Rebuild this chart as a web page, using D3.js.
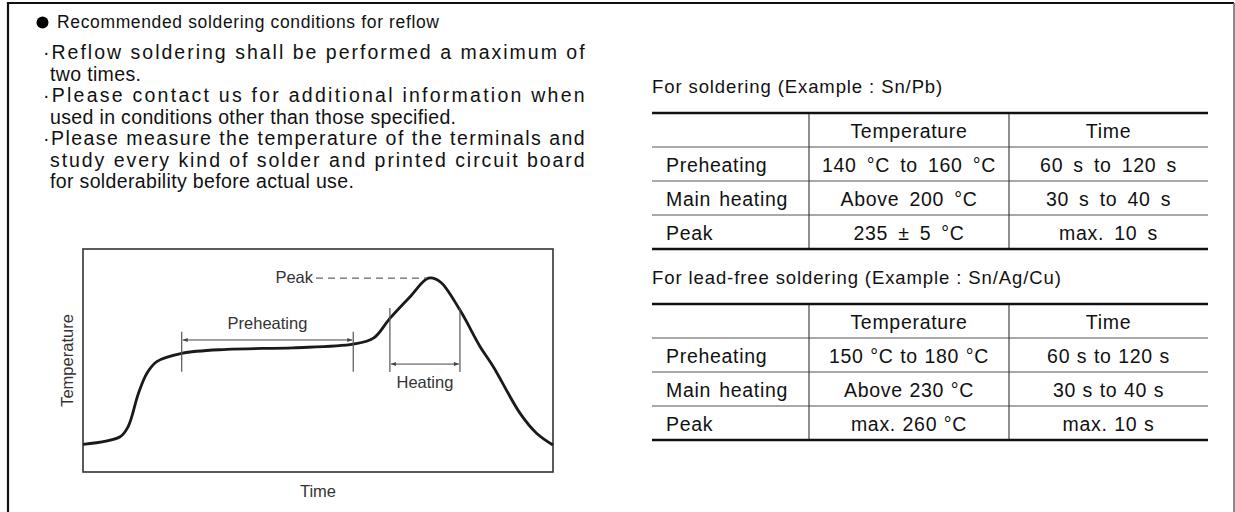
<!DOCTYPE html>
<html>
<head>
<script src="https://d3js.org/d3.v7.min.js"></script>
<style>
  body { margin: 0; background: #fff; }
  svg { display: block; font-family: "Liberation Sans", Arial, sans-serif; }
</style>
</head>
<body>
<script>
// --- text ---
const heading = "Recommended soldering conditions for reflow";
const notes = [
  "·Reflow soldering shall be performed a maximum of",
  "two times.",
  "·Please contact us for additional information when",
  "used in conditions other than those specified.",
  "·Please measure the temperature of the terminals and",
  "study every kind of solder and printed circuit board",
  "for solderability before actual use."
];
const justified = [true, false, true, false, true, true, false];

// --- reflow profile (relative units 0..100) ---
const profileTime = [0, 7.9, 9.6, 11.8, 13.6, 15.7, 21.0, 30.6, 44.7, 57.5, 61.8, 65.3, 69.6, 73.5, 76.0, 80.2, 84.5, 87.3, 93.0, 96.5, 100];
const profileTemp = [12.4, 15.8, 20.3, 35.3, 44.3, 49.5, 53.2, 55.0, 55.7, 57.3, 60.0, 68.9, 78.6, 86.9, 85.3, 72.6, 56.2, 47.2, 26.3, 17.4, 12.1];
const preheatSpan = [21.0, 57.5];
const heatingSpan = [65.3, 80.2];

// --- tables ---
const columns = ["", "Temperature", "Time"];
const stages = ["Preheating", "Main heating", "Peak"];
const snpbTitle = "For soldering (Example : Sn/Pb)";
const snpbTemp = ["140 °C to 160 °C", "Above 200 °C", "235 ± 5 °C"];
const snpbTime = ["60 s to 120 s", "30 s to 40 s", "max. 10 s"];
const freeTitle = "For lead-free soldering (Example : Sn/Ag/Cu)";
const freeTemp = ["150 °C to 180 °C", "Above 230 °C", "max. 260 °C"];
const freeTime = ["60 s to 120 s", "30 s to 40 s", "max. 10 s"];

const W = 1235, H = 512;
const svg = d3.select("body").append("svg").attr("width", W).attr("height", H);

// outer frame (open at the bottom)
svg.append("path")
  .attr("d", `M8,${H} L8,3 L1234,3`)
  .attr("fill", "none").attr("stroke", "#111").attr("stroke-width", 2.2);
svg.append("line").attr("x1", 1234).attr("x2", 1234).attr("y1", 3).attr("y2", H)
  .attr("stroke", "#666").attr("stroke-width", 1.5);

// heading
svg.append("circle").attr("cx", 42.5).attr("cy", 22.5).attr("r", 6).attr("fill", "#000");
svg.append("text").attr("x", 57).attr("y", 28)
  .attr("font-size", 17.5).attr("fill", "#111")
  .attr("textLength", 382).attr("lengthAdjust", "spacing")
  .text(heading);

// notes paragraph
const noteLeft = 43, noteRight = 585, lineGap = 21.5;
notes.forEach((t, i) => {
  const x = t.startsWith("·") ? noteLeft : noteLeft + 7;
  const el = svg.append("text")
    .attr("x", x).attr("y", 59 + i * lineGap)
    .attr("font-size", 19.5).attr("fill", "#111")
    .attr("letter-spacing", 0.35)
    .text(t);
  if (justified[i]) el.attr("textLength", noteRight - x).attr("lengthAdjust", "spacing");
});

// --- profile chart ---
const box = {x0: 83, y0: 249, x1: 553, y1: 472};
const x = d3.scaleLinear().domain([0, 100]).range([box.x0, box.x1]);
const y = d3.scaleLinear().domain([0, 100]).range([box.y1, box.y0]);
const g = svg.append("g");

g.append("rect")
  .attr("x", box.x0).attr("y", box.y0)
  .attr("width", box.x1 - box.x0).attr("height", box.y1 - box.y0)
  .attr("fill", "none").attr("stroke", "#333").attr("stroke-width", 1.6);

const profile = profileTime.map((t, i) => [t, profileTemp[i]]);
const line = d3.line().x(d => x(d[0])).y(d => y(d[1])).curve(d3.curveCatmullRom.alpha(0.5));
g.append("path").datum(profile)
  .attr("d", line)
  .attr("fill", "none").attr("stroke", "#1a1a1a").attr("stroke-width", 2.8)
  .attr("stroke-linejoin", "round");

// arrow markers
const defs = svg.append("defs");
[["arrEnd", "auto"], ["arrStart", "auto-start-reverse"]].forEach(([id, orient]) => {
  defs.append("marker").attr("id", id)
    .attr("viewBox", "0 0 10 10").attr("refX", 10).attr("refY", 5)
    .attr("markerWidth", 7).attr("markerHeight", 5).attr("orient", orient)
    .attr("markerUnits", "userSpaceOnUse")
    .append("path").attr("d", "M0,1 L10,5 L0,9 Z").attr("fill", "#444");
});

function span(range, top, bottom, arrowAt, label, labelY) {
  range.forEach(t => {
    g.append("line")
      .attr("x1", x(t)).attr("x2", x(t)).attr("y1", y(top)).attr("y2", y(bottom))
      .attr("stroke", "#555").attr("stroke-width", 1.2);
  });
  g.append("line")
    .attr("x1", x(range[0]) + 1).attr("x2", x(range[1]) - 1)
    .attr("y1", y(arrowAt)).attr("y2", y(arrowAt))
    .attr("stroke", "#444").attr("stroke-width", 1)
    .attr("marker-start", "url(#arrStart)").attr("marker-end", "url(#arrEnd)");
  g.append("text")
    .attr("x", (x(range[0]) + x(range[1])) / 2).attr("y", labelY)
    .attr("text-anchor", "middle").attr("font-size", 16.5).attr("fill", "#333")
    .text(label);
}
span(preheatSpan, 62.9, 45.0, 59.2, "Preheating", 329);
span(heatingSpan, 73.5, 44.8, 48.4, "Heating", 388);

// peak marker
const peakIdx = d3.maxIndex(profileTemp);
const peakX = x(profileTime[peakIdx]), peakY = y(profileTemp[peakIdx]);
g.append("line")
  .attr("x1", 316).attr("x2", peakX - 2).attr("y1", peakY).attr("y2", peakY)
  .attr("stroke", "#666").attr("stroke-width", 1.2).attr("stroke-dasharray", "7,5");
g.append("text").attr("x", 313).attr("y", peakY + 5)
  .attr("text-anchor", "end").attr("font-size", 16.5).attr("fill", "#333").text("Peak");

// axis titles
g.append("text")
  .attr("transform", `translate(73,${(box.y0 + box.y1) / 2}) rotate(-90)`)
  .attr("text-anchor", "middle").attr("font-size", 16.5).attr("fill", "#333")
  .text("Temperature");
g.append("text")
  .attr("x", (box.x0 + box.x1) / 2).attr("y", 497)
  .attr("text-anchor", "middle").attr("font-size", 16.5).attr("fill", "#333")
  .text("Time");

// --- tables ---
const tx0 = 652, tx1 = 1208, colX = [tx0, 809, 1009, tx1], rowH = 34;

function drawTable(top, title, temps, times, wordSp) {
  const t = svg.append("g");
  t.append("text").attr("x", tx0).attr("y", top - 20)
    .attr("font-size", 18.5).attr("fill", "#111").attr("letter-spacing", 0.9)
    .text(title);
  const rows = [columns].concat(stages.map((s, i) => [s, temps[i], times[i]]));
  rows.forEach((r, ri) => {
    const ry = top + ri * rowH;
    r.forEach((cell, ci) => {
      if (!cell) return;
      const cx = ci === 0 ? tx0 + 14 : (colX[ci] + colX[ci + 1]) / 2;
      t.append("text")
        .attr("x", cx).attr("y", ry + 25)
        .attr("text-anchor", ci === 0 ? "start" : "middle")
        .attr("font-size", 19.5).attr("fill", "#111")
        .attr("letter-spacing", 0.7)
        .attr("word-spacing", ci === 0 ? 2 : wordSp)
        .text(cell);
    });
    if (ri > 0) {
      t.append("line").attr("x1", tx0).attr("x2", tx1).attr("y1", ry).attr("y2", ry)
        .attr("stroke", "#555").attr("stroke-width", 1.2);
    }
  });
  [1, 2].forEach(ci => {
    t.append("line").attr("x1", colX[ci]).attr("x2", colX[ci])
      .attr("y1", top).attr("y2", top + rows.length * rowH)
      .attr("stroke", "#333").attr("stroke-width", 1.1);
  });
  [top, top + rows.length * rowH].forEach(ly => {
    t.append("line").attr("x1", tx0).attr("x2", tx1).attr("y1", ly).attr("y2", ly)
      .attr("stroke", "#111").attr("stroke-width", 2.6);
  });
}
drawTable(113, snpbTitle, snpbTemp, snpbTime, 4);
drawTable(304, freeTitle, freeTemp, freeTime, 0.5);
</script>
</body>
</html>
